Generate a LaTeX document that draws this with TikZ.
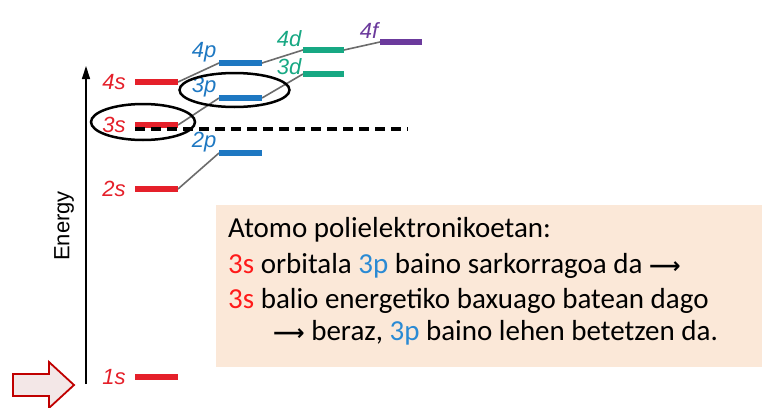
\documentclass[tikz,border=0pt]{standalone}
\usepackage{fontspec}
\setmainfont{Carlito}
\newfontfamily\lab{Liberation Sans}
\newfontfamily\dv{DejaVu Sans}
\usetikzlibrary{arrows.meta}
\definecolor{ored}{HTML}{E5202A}
\definecolor{oblue}{HTML}{1E78C2}
\definecolor{ogreen}{HTML}{17A883}
\definecolor{opurple}{HTML}{6B3A9C}
\definecolor{tred}{HTML}{FF1A1A}
\definecolor{tblue}{HTML}{2A8AD4}
\definecolor{peach}{HTML}{FBE8D8}
\definecolor{arrred}{HTML}{C00000}
\definecolor{arrfill}{HTML}{F3E7E7}
\tikzset{
  lvl/.style={line width=6pt},
  conn/.style={draw=gray!85!black, line width=1.6pt},
  olab/.style={font=\lab\itshape\fontsize{22}{22}\selectfont, inner sep=0pt},
  ring/.style={draw=black, line width=2.5pt},
  txt/.style={anchor=base west, inner sep=0pt, font=\fontsize{29}{29}\selectfont},
}
\newcommand{\rarr}{{\dv\bfseries\fontsize{22}{22}\selectfont ⟶}}
\begin{document}
\begin{tikzpicture}[x=1pt,y=-1pt]
\useasboundingbox (0,0) rectangle (762,407);
\fill[white] (0,0) rectangle (762,407);
% text box
\fill[peach] (216,205) rectangle (762,367);
% energy axis
\coordinate (eb) at (86,384);
\coordinate (et) at (86,66);
\draw[line width=1.3pt, -{Triangle[length=13pt,width=8pt]}] (eb) -- (et);
\node[rotate=90, font=\lab\fontsize{22}{22}\selectfont, inner sep=0pt] (energy) at (64,226) {Energy};
% levels
\coordinate (s4a) at (135,82);  \coordinate (s4b) at (178,82);
\coordinate (s3a) at (135,125); \coordinate (s3b) at (178,125);
\coordinate (s2a) at (135,189); \coordinate (s2b) at (178,189);
\coordinate (s1a) at (135,377); \coordinate (s1b) at (178,377);
\coordinate (p4a) at (219,63);  \coordinate (p4b) at (262,63);
\coordinate (p3a) at (219,98);  \coordinate (p3b) at (262,98);
\coordinate (p2a) at (219,153); \coordinate (p2b) at (262,153);
\coordinate (d4a) at (303,50);  \coordinate (d4b) at (344,50);
\coordinate (d3a) at (303,74);  \coordinate (d3b) at (344,74);
\coordinate (f4a) at (380,42);  \coordinate (f4b) at (422,42);
% connectors
\draw[conn] (s4b) -- (p4a);
\draw[conn] (s3b) -- (p3a);
\draw[conn] (s2b) -- (p2a);
\draw[conn] (p4b) -- (d4a);
\draw[conn] (p3b) -- (d3a);
\draw[conn] (d4b) -- (f4a);
% bars
\draw[lvl, ored] (s4a) -- (s4b);
\draw[lvl, ored] (s3a) -- (s3b);
\draw[lvl, ored] (s2a) -- (s2b);
\draw[lvl, ored] (s1a) -- (s1b);
\draw[lvl, oblue] (p4a) -- (p4b);
\draw[lvl, oblue] (p3a) -- (p3b);
\draw[lvl, oblue] (p2a) -- (p2b);
\draw[lvl, ogreen] (d4a) -- (d4b);
\draw[lvl, ogreen] (d3a) -- (d3b);
\draw[lvl, opurple] (f4a) -- (f4b);
% dashed line
\coordinate (dl) at (135,129);
\coordinate (dr) at (408,129);
\draw[line width=3.5pt, dash pattern=on 10pt off 6pt] (dl) -- (dr);
% labels
\node[olab, text=ored] (l4s) at (114,82) {4s};
\node[olab, text=ored] (l3s) at (114,125) {3s};
\node[olab, text=ored] (l2s) at (114,189) {2s};
\node[olab, text=ored] (l1s) at (114,377) {1s};
\node[olab, text=oblue] (l4p) at (204,52) {4p};
\node[olab, text=oblue] (l3p) at (204,87) {3p};
\node[olab, text=oblue] (l2p) at (204,142) {2p};
\node[olab, text=ogreen] (l4d) at (289,39) {4d};
\node[olab, text=ogreen] (l3d) at (289,67) {3d};
\node[olab, text=opurple] (l4f) at (369,31) {4f};
% ellipses
\draw[ring] (143,122) ellipse [x radius=52, y radius=18];
\draw[ring] (234.5,90) ellipse [x radius=55, y radius=17];
% big arrow
\draw[arrred, fill=arrfill, line width=1.8pt, line join=miter]
  (13,374) -- (49,374) -- (49,362) -- (74,385) -- (49,408) -- (49,396) -- (13,396) -- cycle;
% text
\node[txt] (t1) at (228,237) {Atomo polielektronikoetan:};
\node[txt] (t2) at (228,273) {\textcolor{tred}{3s} orbitala \textcolor{tblue}{3p} baino sarkorragoa da \rarr};
\node[txt] (t3) at (228,308) {\textcolor{tred}{3s} balio energetiko baxuago batean dago};
\node[txt] (t4) at (273,340) {\rarr{} beraz, \textcolor{tblue}{3p} baino lehen betetzen da.};
\end{tikzpicture}
\end{document}
